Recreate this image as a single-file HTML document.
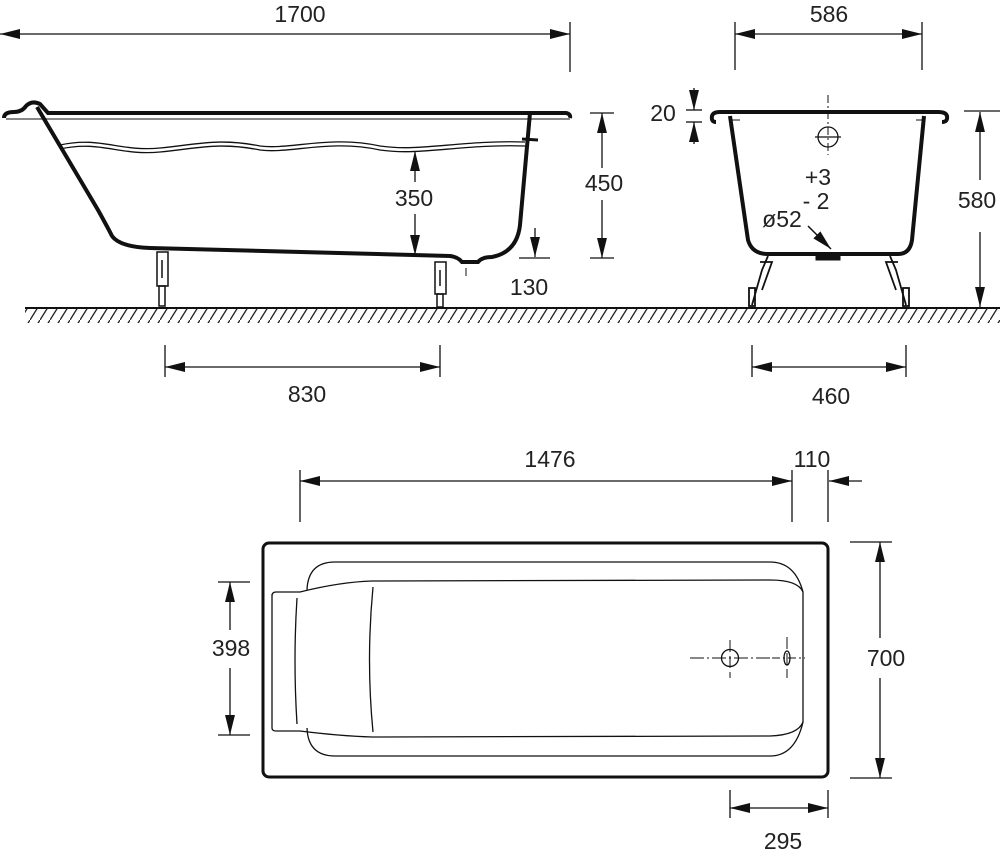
<!DOCTYPE html>
<html><head><meta charset="utf-8"><style>html,body{margin:0;padding:0;background:#fff}svg{display:block}text{font-family:"Liberation Sans",sans-serif;font-size:23px;fill:#222;text-anchor:middle}</style></head>
<body>
<svg width="1000" height="850" viewBox="0 0 1000 850" xmlns="http://www.w3.org/2000/svg">
<defs>
<marker id="a" viewBox="0 0 10 10" preserveAspectRatio="none" refX="10" refY="5" markerWidth="20" markerHeight="11" markerUnits="userSpaceOnUse" orient="auto-start-reverse"><path d="M0,0.5 L10,5 L0,9.5 Z" fill="#111"/></marker>
<pattern id="h" width="10" height="16" patternUnits="userSpaceOnUse"><path d="M10,0 L0,16" stroke="#222" stroke-width="1.3"/></pattern>
</defs>
<g stroke="#111" fill="none">
<line x1="25" y1="308" x2="1000" y2="308" stroke-width="2"/>
<rect x="25" y="309" width="975" height="14" fill="url(#h)" stroke="none"/>

<path d="M4,118 Q4,112 14,112 Q22,112 26,106 Q32,100 40,104 L48,113 L566,113 Q571,114 570,118" stroke-width="4"/>
<line x1="6" y1="119" x2="570" y2="119" stroke-width="1"/>
<path d="M37,107 L98,210 Q108,228 112,236 Q120,247 150,248 L450,256 Q458,257 462,262 L478,262 Q482,257 492,257 Q517,252 520,225 L530,113" stroke-width="4"/>
<path d="M60,145 C100,136 120,152 160,148 C200,144 220,138 260,146 C290,150 330,135 380,146 C420,152 460,140 525,142" stroke-width="1.3"/>
<path d="M60,149 C100,140 120,156 160,152 C200,148 220,142 260,150 C290,154 330,139 380,150 C420,156 460,144 525,146" stroke-width="1.3"/>
<line x1="522" y1="139" x2="538" y2="140" stroke-width="3"/>
<g stroke-width="1.5">
<rect x="157" y="252" width="11" height="34" fill="#fff"/><line x1="162" y1="260" x2="162" y2="278"/><rect x="159" y="286" width="6" height="20"/>
<rect x="435" y="262" width="11" height="32" fill="#fff"/><line x1="440" y1="270" x2="440" y2="286"/><rect x="437" y="294" width="6" height="13"/>
</g>
<line x1="466" y1="268" x2="466" y2="276" stroke-width="1"/>
<line x1="0" y1="34" x2="570" y2="34" stroke-width="1.3" marker-start="url(#a)" marker-end="url(#a)"/>
<line x1="570" y1="22" x2="570" y2="72" stroke-width="1.3"/>
<line x1="590" y1="113" x2="614" y2="113" stroke-width="1.3"/><line x1="590" y1="258" x2="614" y2="258" stroke-width="1.3"/>
<line x1="602" y1="113" x2="602" y2="168" stroke-width="1.3" marker-start="url(#a)"/><line x1="602" y1="200" x2="602" y2="258" stroke-width="1.3" marker-end="url(#a)"/>
<line x1="415" y1="151" x2="415" y2="182" stroke-width="1.3" marker-start="url(#a)"/><line x1="415" y1="214" x2="415" y2="255" stroke-width="1.3" marker-end="url(#a)"/>
<line x1="535" y1="228" x2="535" y2="257" stroke-width="1.3" marker-end="url(#a)"/><line x1="519" y1="258" x2="550" y2="258" stroke-width="1.3"/>
<line x1="165" y1="345" x2="165" y2="377" stroke-width="1.3"/><line x1="440" y1="345" x2="440" y2="377" stroke-width="1.3"/>
<line x1="165" y1="367" x2="440" y2="367" stroke-width="1.3" marker-start="url(#a)" marker-end="url(#a)"/>

<path d="M716,122 Q711,122 712,116 Q713,112 720,112 L938,112 Q946,112 947,116 Q948,122 942,122" stroke-width="4"/>
<path d="M730,116 L748,240 Q752,254 768,254 L898,254 Q910,254 912,240 L924,116" stroke-width="4"/>
<line x1="731" y1="120" x2="740" y2="120" stroke-width="1"/><line x1="916" y1="120" x2="925" y2="120" stroke-width="1"/>
<rect x="816" y="254" width="24" height="6" fill="#111"/>
<line x1="828" y1="95" x2="828" y2="155" stroke-width="1" stroke-dasharray="8,3,2,3"/>
<circle cx="828" cy="137" r="10" stroke-width="1.3"/><line x1="815" y1="137" x2="841" y2="137" stroke-width="1.3"/>
<line x1="808" y1="226" x2="831" y2="249" stroke-width="1.5" marker-end="url(#a)"/>
<g stroke-width="1.8"><path d="M768,256 L762,270 L752,305"/><path d="M760,262 L772,262 L762,290"/><rect x="749" y="288" width="6" height="18"/>
<path d="M890,256 L896,270 L906,305"/><path d="M898,262 L886,262 L896,290"/><rect x="903" y="288" width="6" height="18"/></g>
<line x1="735" y1="22" x2="735" y2="70" stroke-width="1.3"/><line x1="922" y1="22" x2="922" y2="70" stroke-width="1.3"/>
<line x1="735" y1="34" x2="922" y2="34" stroke-width="1.3" marker-start="url(#a)" marker-end="url(#a)"/>
<line x1="686" y1="110" x2="702" y2="110" stroke-width="1.3"/><line x1="686" y1="122" x2="702" y2="122" stroke-width="1.3"/>
<line x1="694" y1="88" x2="694" y2="110" stroke-width="1.3" marker-end="url(#a)"/><line x1="694" y1="144" x2="694" y2="122" stroke-width="1.3" marker-end="url(#a)"/>
<line x1="964" y1="111" x2="1000" y2="111" stroke-width="1.3"/>
<line x1="980" y1="112" x2="980" y2="180" stroke-width="1.3" marker-start="url(#a)"/><line x1="980" y1="232" x2="980" y2="307" stroke-width="1.3" marker-end="url(#a)"/>
<line x1="752" y1="345" x2="752" y2="377" stroke-width="1.3"/><line x1="906" y1="345" x2="906" y2="377" stroke-width="1.3"/>
<line x1="752" y1="367" x2="906" y2="367" stroke-width="1.3" marker-start="url(#a)" marker-end="url(#a)"/>

<rect x="263" y="543" width="565" height="234" rx="6" stroke-width="3"/>
<path d="M307,590 Q308,562 335,562 L770,562 Q795,562 803,592 M803,722 Q795,756 770,756 L335,756 Q308,756 307,728" stroke-width="1.3"/>
<path d="M272,594 L272,728 Q272,731 276,731 L300,731 Q340,736 372,737 L770,736 Q798,735 803,722 L803,592 Q798,580 770,580 L372,581 Q340,582 300,592 L276,592 Q272,592 272,596" stroke-width="1.3"/>
<path d="M297,598 Q293,660 297,724" stroke-width="1.3"/>
<path d="M373,587 Q366,660 373,732" stroke-width="1.3"/>
<circle cx="730" cy="658" r="8.5" stroke-width="1.3"/>
<line x1="690" y1="658" x2="770" y2="658" stroke-width="1" stroke-dasharray="14,3,2,3"/>
<line x1="730" y1="640" x2="730" y2="678" stroke-width="1" stroke-dasharray="12,4"/>
<ellipse cx="787" cy="658" rx="3" ry="7" stroke-width="1.3"/>
<line x1="772" y1="658" x2="805" y2="658" stroke-width="1" stroke-dasharray="8,3,2,3"/>
<line x1="787" y1="637" x2="787" y2="678" stroke-width="1" stroke-dasharray="12,4"/>
<line x1="300" y1="470" x2="300" y2="522" stroke-width="1.3"/><line x1="792" y1="470" x2="792" y2="522" stroke-width="1.3"/><line x1="828" y1="470" x2="828" y2="522" stroke-width="1.3"/>
<line x1="300" y1="481" x2="792" y2="481" stroke-width="1.3" marker-start="url(#a)" marker-end="url(#a)"/>
<line x1="862" y1="481" x2="829" y2="481" stroke-width="1.3" marker-end="url(#a)"/>
<line x1="218" y1="582" x2="250" y2="582" stroke-width="1.3"/><line x1="218" y1="735" x2="250" y2="735" stroke-width="1.3"/>
<line x1="230" y1="582" x2="230" y2="630" stroke-width="1.3" marker-start="url(#a)"/><line x1="230" y1="668" x2="230" y2="735" stroke-width="1.3" marker-end="url(#a)"/>
<line x1="850" y1="542" x2="892" y2="542" stroke-width="1.3"/><line x1="850" y1="778" x2="892" y2="778" stroke-width="1.3"/>
<line x1="880" y1="542" x2="880" y2="638" stroke-width="1.3" marker-start="url(#a)"/><line x1="880" y1="678" x2="880" y2="778" stroke-width="1.3" marker-end="url(#a)"/>
<line x1="730" y1="790" x2="730" y2="818" stroke-width="1.3"/><line x1="828" y1="790" x2="828" y2="818" stroke-width="1.3"/>
<line x1="730" y1="808" x2="828" y2="808" stroke-width="1.3" marker-start="url(#a)" marker-end="url(#a)"/>
</g>
<text x="300" y="22">1700</text>
<text x="414" y="206">350</text>
<text x="604" y="191">450</text>
<text x="529" y="295">130</text>
<text x="307" y="402">830</text>
<text x="829" y="22">586</text>
<text x="663" y="121">20</text>
<text x="818" y="185">+3</text>
<text x="816" y="209">- 2</text>
<text x="782" y="227">ø52</text>
<text x="977" y="208">580</text>
<text x="831" y="404">460</text>
<text x="550" y="467">1476</text>
<text x="812" y="467">110</text>
<text x="231" y="656">398</text>
<text x="886" y="666">700</text>
<text x="783" y="849">295</text>
</svg>
</body></html>
